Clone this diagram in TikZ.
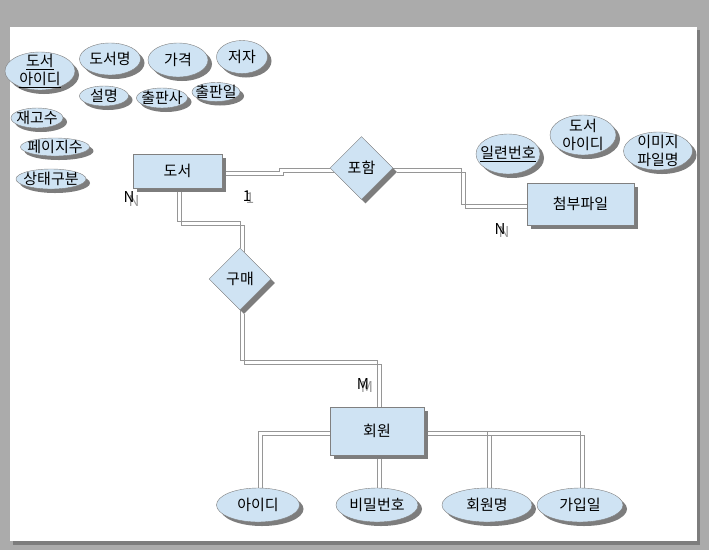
\documentclass[tikz,border=0pt]{standalone}
\usepackage{fontspec}
\setmainfont{Noto Sans CJK KR}
\usetikzlibrary{shapes.geometric,shadows,backgrounds}
\definecolor{boxblue}{RGB}{207,227,243}
\definecolor{edgegray}{RGB}{128,128,128}
\definecolor{shadegray}{RGB}{125,125,125}
\definecolor{deskgray}{RGB}{171,171,171}
\definecolor{linegray}{RGB}{150,150,150}

\begin{document}
\begin{tikzpicture}[x=1pt,y=-1pt,font=\fontsize{15}{18}\selectfont,
  boxshadow/.style={drop shadow={shadow xshift=4pt,shadow yshift=-4pt,fill=shadegray,opacity=1}},
  entity/.style 2 args={rectangle,draw=edgegray,fill=boxblue,boxshadow,inner sep=0pt,minimum width=#1pt,minimum height=#2pt},
  relation/.style={diamond,draw=edgegray,fill=boxblue,boxshadow,inner sep=0pt,minimum size=#1pt},
  attr/.style n args={3}{ellipse,draw=edgegray,fill=boxblue,boxshadow,inner sep=0pt,minimum width=#1pt,minimum height=#2pt,label={[align=center]center:#3}},
  conn/.style={draw=linegray,line width=0.8pt},
  card/.style={inner sep=0pt,font=\fontsize{15}{15}\selectfont},
  cardback/.style={inner sep=0pt,text=gray!80,font=\fontsize{15}{15}\selectfont}]
\useasboundingbox (0,0) rectangle (709,550);
\node[entity={89}{34}] (Doseo) at (177.5,171) {도서};
\node[entity={107}{42}] (Cheombu) at (580.5,204) {첨부파일};
\node[entity={94}{48}] (Hoewon) at (377,431) {회원};
\node[relation=63] (Poham) at (361.5,168) {포함};
\node[relation=62] (Gumae) at (240,279) {구매};
\node[attr={70}{38}{\underline{도서}\\\underline{아이디}}] (DoseoId) at (40,71) {};
\node[attr={61}{32}{도서명}] (DoseoMyeong) at (110,59) {};
\node[attr={60}{34}{가격}] (Gagyeok) at (178,60) {};
\node[attr={51}{33}{저자}] (Jeoja) at (242,57) {};
\node[attr={49}{20}{설명}] (Seolmyeong) at (104,96) {};
\node[attr={51}{20}{출판사}] (Chulpansa) at (162,98) {};
\node[attr={48}{19}{출판일}] (Chulpanil) at (216,92) {};
\node[attr={52}{20}{재고수}] (Jaegosu) at (37,118) {};
\node[attr={69}{18}{페이지수}] (Peijisu) at (55,147) {};
\node[attr={70}{20}{상태구분}] (Sangtae) at (51,179) {};
\node[attr={64}{40}{\underline{일련번호}}] (Ilryeon) at (508,154) {};
\node[attr={66}{40}{도서\\아이디}] (FileDoseoId) at (583,135) {};
\node[attr={69}{38}{이미지\\파일명}] (Imiji) at (658,151) {};
\node[attr={83}{34}{아이디}] (Aidi) at (258,505) {};
\node[attr={82}{34}{비밀번호}] (Bimil) at (377,505) {};
\node[attr={90}{34}{회원명}] (HoewonMyeong) at (487,505) {};
\node[attr={86}{34}{가입일}] (Gaip) at (580,505) {};
\node[cardback] (CardNaS) at (134,201) {N};
\node[card] (CardNa) at (129,197) {N};
\node[cardback] (CardOneS) at (250,198) {1};
\node[card] (CardOne) at (247,196) {1};
\node[cardback] (CardNbS) at (504,232) {N};
\node[card] (CardNb) at (500,229) {N};
\node[cardback] (CardMS) at (367,387) {M};
\node[card] (CardM) at (363,384) {M};
\begin{scope}[on background layer]
\fill[deskgray] (0,0) rectangle (709,550);
\fill[shadegray] (13,30) rectangle (700,545);
\fill[white] (10,27) rectangle (697,541);
\foreach \s in {0,4}{
\draw[conn] ([shift={(\s,\s)}]Doseo.east) -- ++(57,0) |- ([shift={(\s,\s)}]Poham.west);
\draw[conn] ([shift={(\s,\s)}]Poham.east) -- ++(68,0) |- ([shift={(\s,\s)}]Cheombu.west);
\draw[conn] ([shift={(\s,\s)}]Doseo.south) -- ++(0,33) -| ([shift={(\s,\s)}]Gumae.north);
\draw[conn] ([shift={(\s,\s)}]Gumae.south) -- ++(0,50) -| ([shift={(\s,\s)}]Hoewon.north);
\draw[conn] ([shift={(\s,\s)}]Hoewon.west) -| ([shift={(\s,\s)}]Aidi.north);
\draw[conn] ([shift={(\s,\s)}]Hoewon.south) -- ([shift={(\s,\s)}]Bimil.north);
\draw[conn] ([shift={(\s,\s)}]Hoewon.east) -| ([shift={(\s,\s)}]HoewonMyeong.north);
\draw[conn] ([shift={(\s,\s)}]Hoewon.east) -| ([shift={(\s,\s)}]Gaip.north);
}
\end{scope}
\end{tikzpicture}
\end{document}
